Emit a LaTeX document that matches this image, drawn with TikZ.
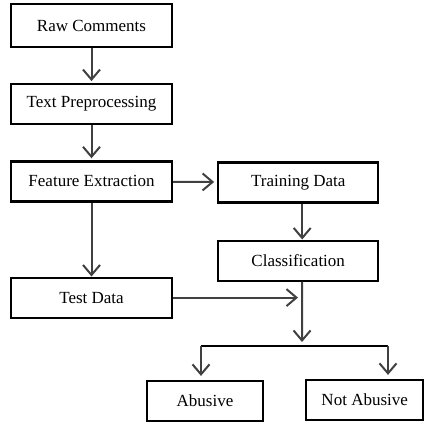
\documentclass[tikz,border=0pt]{standalone}
\usepackage{fontspec}
\setmainfont{Liberation Serif}
\usetikzlibrary{arrows.meta, positioning, calc}

\begin{document}
\begin{tikzpicture}[>={Straight Barb[length=10pt, width=17pt, line width=2pt]},
    box/.style={draw, line width=2.2pt, minimum width=161pt, minimum height=40pt,
                inner sep=0pt, font=\fontsize{17}{20}\selectfont},
    arr/.style={->, line width=2pt, draw=black!75},
    bar/.style={line width=2.4pt}]
  \useasboundingbox (0,0) rectangle (432pt,-433pt);

  % left column
  \node[box, minimum height=43pt] (raw) at (91.5pt,-25.5pt) {Raw Comments};
  \node[box, below=35pt of raw] (pre) {Text Preprocessing};
  \node[box, below=35pt of pre] (feat) {Feature Extraction};
  \node[box, below=74pt of feat] (test) {Test Data};

  % right column
  \node[box, minimum width=160pt, right=44pt of feat, yshift=-1pt] (train) {Training Data};
  \node[box, minimum width=160pt, below=36pt of train] (cls) {Classification};

  % results
  \node[box, minimum width=116pt] (abu) at (205pt,-401pt) {Abusive};
  \node[box, minimum width=117pt, right=41pt of abu, yshift=1pt] (nab) {Not Abusive};

  \coordinate (fork) at (302pt,-346pt);
  \coordinate (forkL) at (201pt,-346pt);
  \coordinate (forkR) at (388pt,-346pt);

  \draw[arr, shorten >=2pt] (raw) -- (pre);
  \draw[arr, shorten >=2pt] (pre) -- (feat);
  \draw[arr] (feat) -- (test);
  \draw[arr, shorten >=3pt] (feat) -- (train);
  \draw[arr] ([xshift=4pt]train.south) -- ([xshift=4pt]cls.north);
  \draw[arr] ([xshift=4pt]cls.south) -- ([yshift=4pt]fork);
  \draw[arr, shorten >=4pt] (test.east) -- (test.east -| fork);
  \draw[bar] (forkL) -- (forkR);
  \draw[arr, shorten >=4pt] (forkL) -- (forkL |- abu.north);
  \draw[arr, shorten >=4pt] (forkR) -- (forkR |- nab.north);
\end{tikzpicture}
\end{document}
